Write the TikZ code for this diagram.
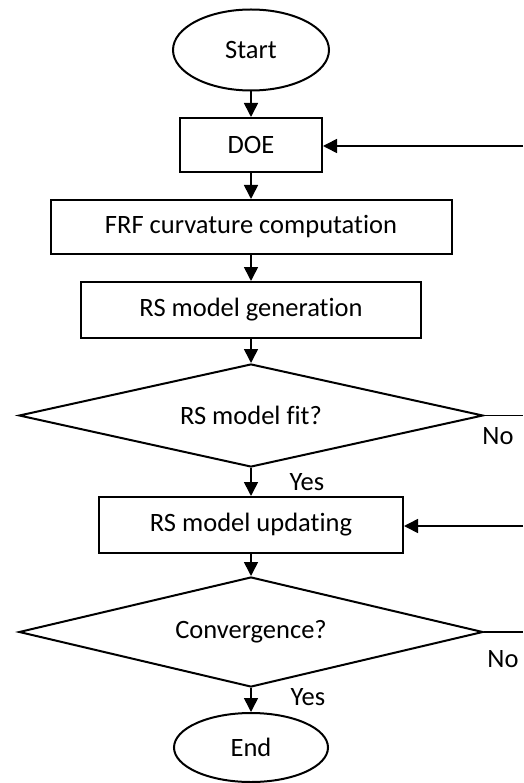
\documentclass[tikz,border=0pt]{standalone}
\usepackage{fontspec}
\setmainfont{Carlito}[Ligatures=NoCommon]
\usetikzlibrary{shapes.geometric,arrows.meta}
\begin{document}
\begin{tikzpicture}[x=1pt,y=-1pt,
  every node/.style={font=\fontsize{26.5}{30}\selectfont},
  box/.style={draw,line width=2pt,rectangle,inner sep=0pt},
  term/.style={draw,line width=2pt,ellipse,inner sep=0pt},
  dec/.style={draw,line width=2pt,diamond,inner sep=0pt,aspect=4.4},
  conn/.style={line width=1.6pt,-{Triangle[length=14pt,width=14pt]}},
  plain/.style={line width=1.6pt},
  lbl/.style={inner sep=0pt}]
\useasboundingbox (0,0) rectangle (523,783);
\node[term,minimum width=156pt,minimum height=81pt] (start) at (251,50) {Start};
\node[box,minimum width=142pt,minimum height=54pt] (doe) at (251,145) {DOE};
\node[box,minimum width=401pt,minimum height=54pt] (frf) at (251,227) {FRF curvature computation};
\node[box,minimum width=340pt,minimum height=56pt] (gen) at (251,310) {RS model generation};
\node[dec,minimum width=464pt,minimum height=103pt] (fit) at (251,415.5) {RS model fit?};
\node[box,minimum width=304pt,minimum height=56pt] (upd) at (251,525) {RS model updating};
\node[dec,minimum width=464pt,minimum height=110pt] (conv) at (251,632) {Convergence?};
\node[term,minimum width=154pt,minimum height=69pt] (end) at (251,747.5) {End};

\node[lbl] (no1) at (498,436) {No};
\node[lbl] (no2) at (503,659) {No};
\node[lbl] (yes1) at (307,482) {Yes};
\node[lbl] (yes2) at (308,697) {Yes};

\coordinate (r1) at (523,146);
\coordinate (r2) at (523,415.5);
\coordinate (r3) at (523,526);
\coordinate (r4) at (523,632);

\draw[conn] (start) -- (doe);
\draw[conn] (doe) -- (frf);
\draw[conn] (frf) -- (gen);
\draw[conn] (gen) -- (fit);
\draw[conn] (fit) -- (upd);
\draw[conn] (upd) -- (conv);
\draw[conn] (conv) -- (end);
\draw[conn] (r1) -- (doe.east |- r1);
\draw[conn] (r3) -- (upd.east |- r3);
\draw[plain] (fit.east) -- (r2);
\draw[plain] (conv.east) -- (r4);
\end{tikzpicture}
\end{document}
